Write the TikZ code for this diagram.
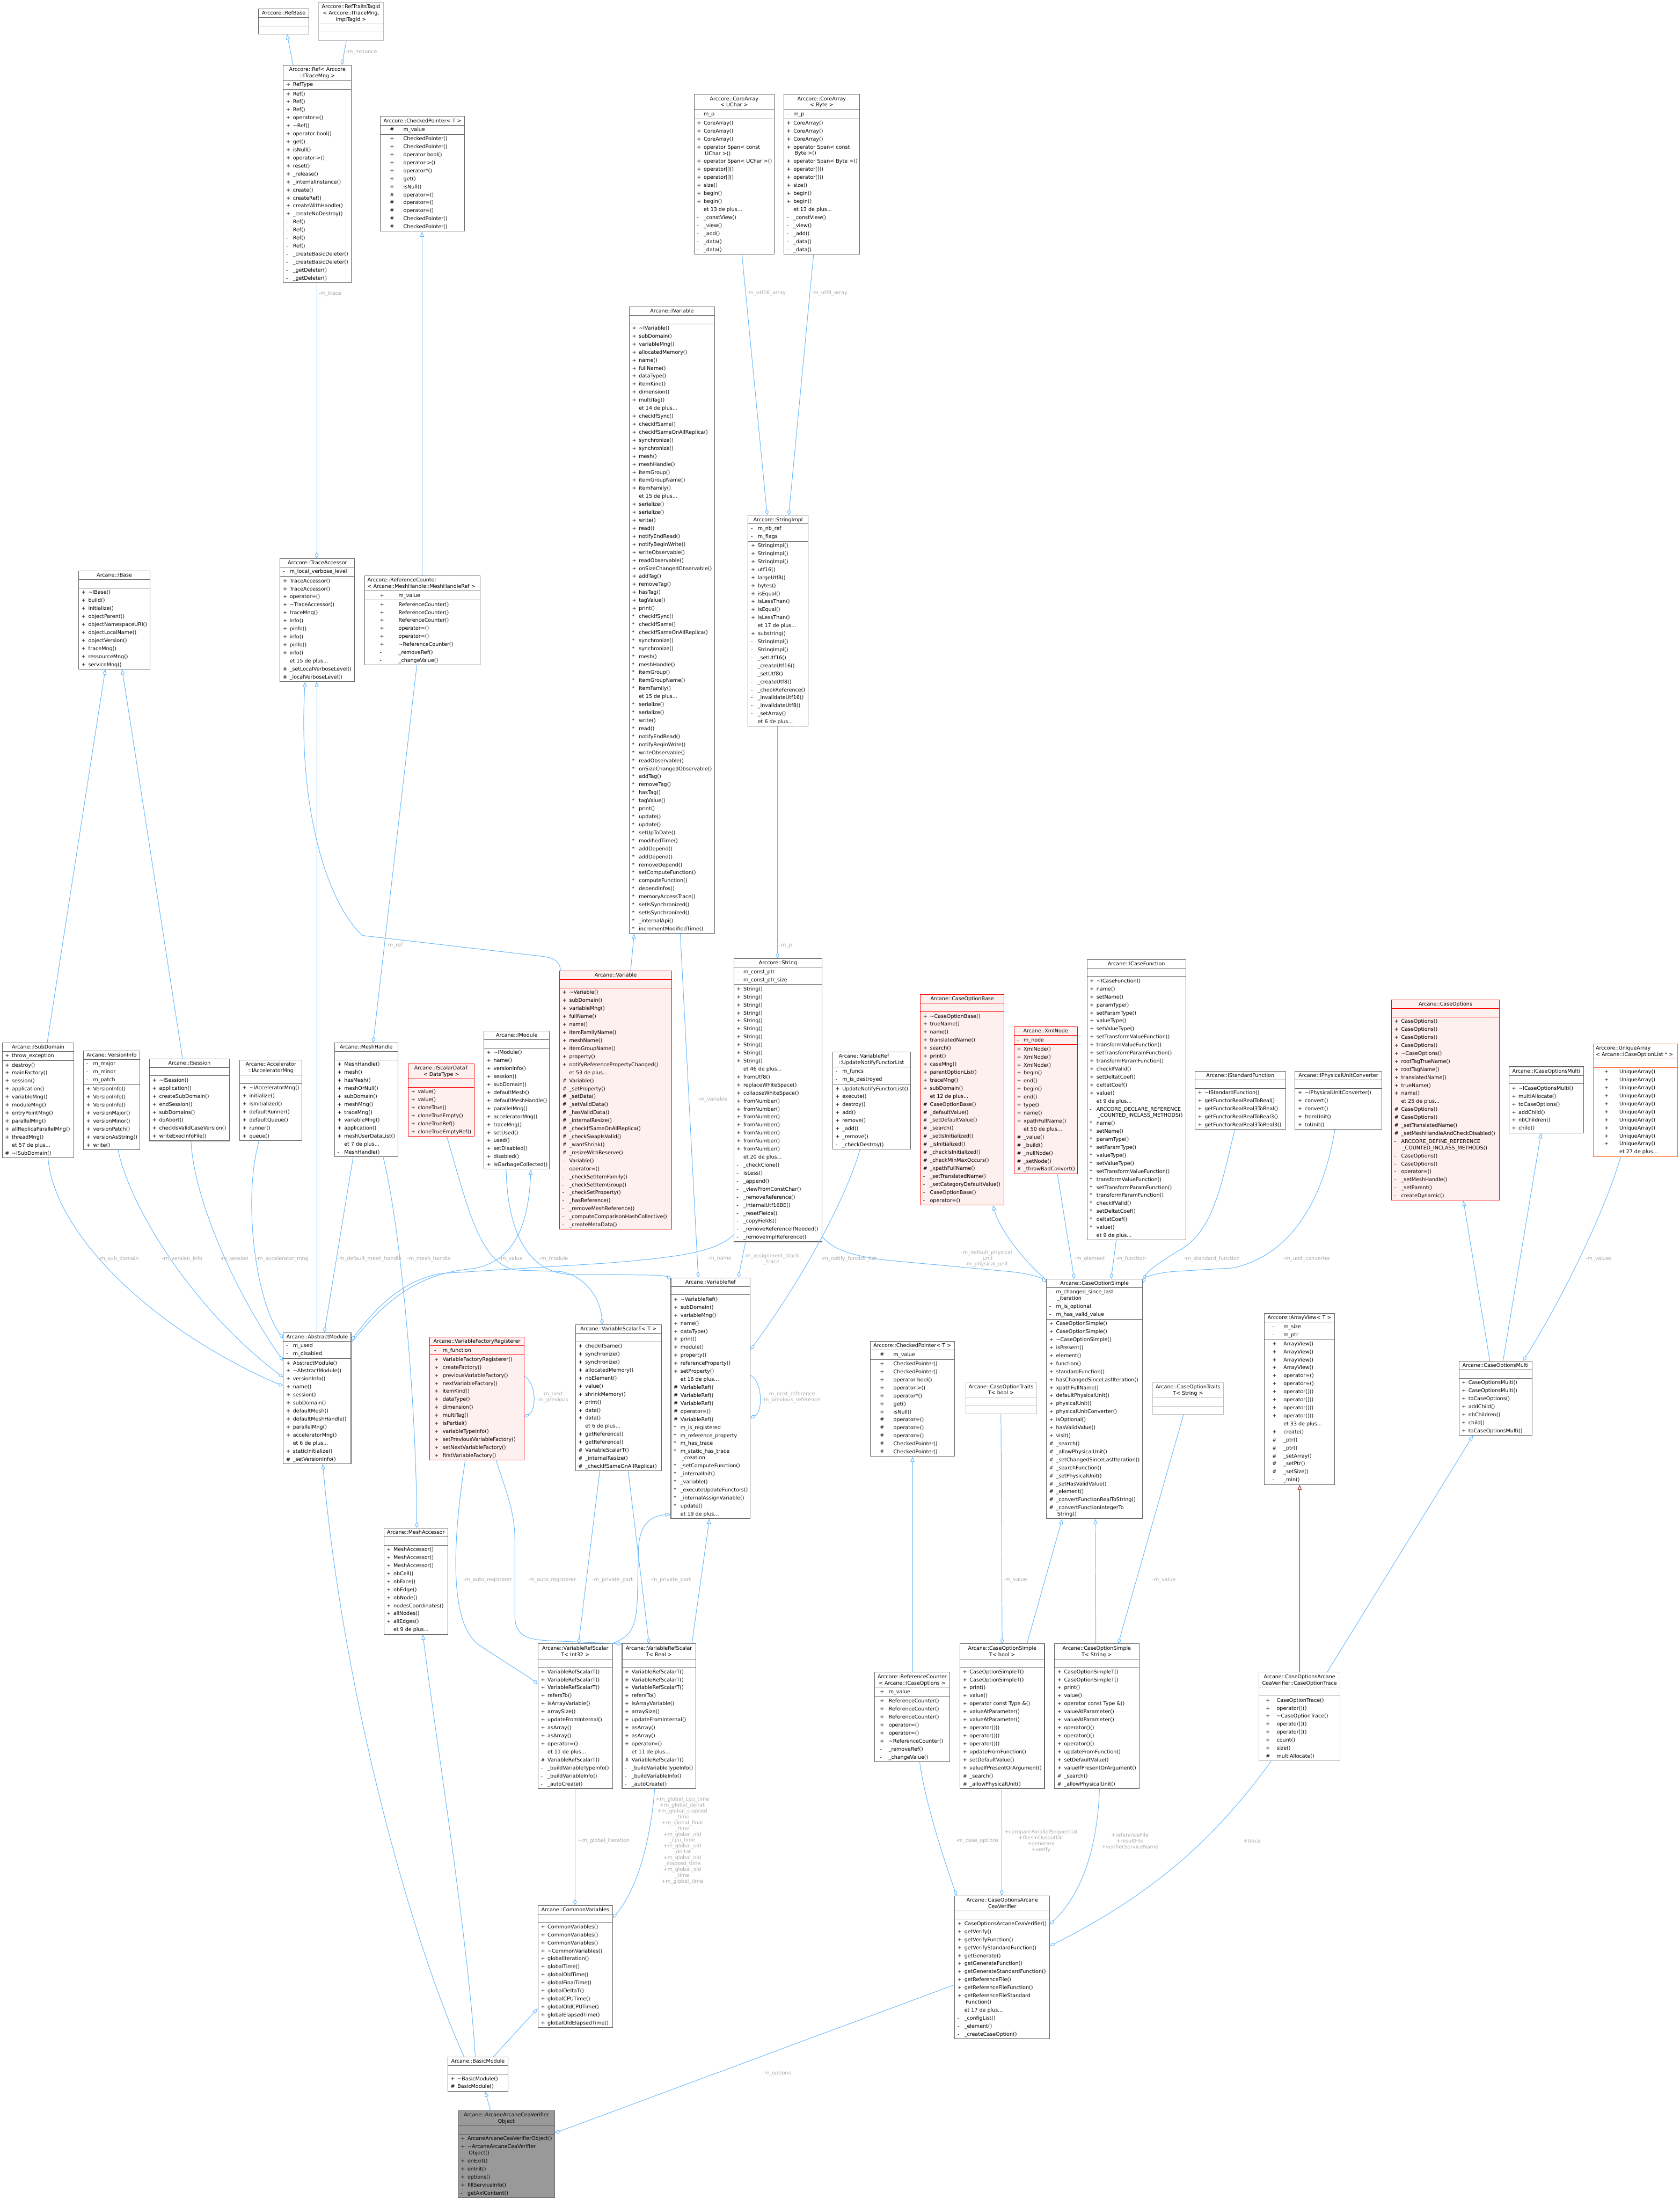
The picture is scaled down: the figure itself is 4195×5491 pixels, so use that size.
\documentclass[tikz,border=0pt]{standalone}
\usepackage{fontspec}
\setmainfont{DejaVu Sans}
\usepackage{tikz}
\usetikzlibrary{arrows.meta}
\usepackage{xcolor}

\definecolor{edgeblue}{HTML}{63B8FF}
\definecolor{lblgray}{HTML}{A8A8A8}
\definecolor{framegray}{HTML}{666666}
\definecolor{ghostgray}{HTML}{BFBFBF}
\definecolor{redframe}{HTML}{FF0000}
\definecolor{redfill}{HTML}{FFF0F0}
\definecolor{orangeframe}{HTML}{FF6A30}
\definecolor{mainfill}{HTML}{999999}
\definecolor{tmplred}{HTML}{9B1C1C}

\newlength\symx
\newlength\txtx
\newcommand\sepcol{framegray}
\newcommand\umlfont{\fontsize{12.8pt}{15pt}\selectfont}
\newcommand\lblfont{\fontsize{12.8pt}{14.6pt}\selectfont}
\newcommand\tld{\textasciitilde}
% a class box: width, then title / compartments
\newcommand\cls[2]{\vbox{\hsize=#1pt\offinterlineskip#2}}
\newcommand\ctitle[1]{\hbox to\hsize{\vrule height15pt depth6pt width0pt\hss#1\hss}}
\newcommand\ctitlew[1]{\hbox to\hsize{\vrule height10pt depth6pt width0pt\hss#1\hss}}
\newcommand\ctitlel[2]{\hbox to\hsize{\vrule height15pt depth6pt width0pt\hskip#1pt#2\hss}}
\newcommand\ctitlelw[2]{\hbox to\hsize{\vrule height10pt depth6pt width0pt\hskip#1pt#2\hss}}
\newcommand\csep{{\color{\sepcol}\hrule height1pt}}
\newcommand\cempty{\kern20pt}
\newcommand\cpad{\kern1pt}
\newcommand\crow[2]{\hbox to\hsize{\vrule height14pt depth6pt width0pt\hskip\symx\rlap{#1}\hskip\dimexpr\txtx-\symx\relax#2\hss}}
\newcommand\cwrap[1]{\hbox to\hsize{\vrule height9pt depth6pt width0pt\hskip\txtx\hskip3pt#1\hss}}
\newcommand\cmore[1]{\hbox to\hsize{\vrule height14pt depth6pt width0pt\hskip\txtx et #1 de plus...\hss}}

\catcode`\_=12
% member lists used twice
\newcommand\ivarmid[1]{\crow{#1}{checkIfSync()}\crow{#1}{checkIfSame()}\crow{#1}{checkIfSameOnAllReplica()}%
 \crow{#1}{synchronize()}\crow{#1}{synchronize()}\crow{#1}{mesh()}\crow{#1}{meshHandle()}\crow{#1}{itemGroup()}%
 \crow{#1}{itemGroupName()}\crow{#1}{itemFamily()}\cmore{15}\crow{#1}{serialize()}\crow{#1}{serialize()}%
 \crow{#1}{write()}\crow{#1}{read()}\crow{#1}{notifyEndRead()}\crow{#1}{notifyBeginWrite()}%
 \crow{#1}{writeObservable()}\crow{#1}{readObservable()}\crow{#1}{onSizeChangedObservable()}%
 \crow{#1}{addTag()}\crow{#1}{removeTag()}\crow{#1}{hasTag()}\crow{#1}{tagValue()}\crow{#1}{print()}}
\newcommand\cfunclist[1]{\crow{#1}{name()}\crow{#1}{setName()}\crow{#1}{paramType()}\crow{#1}{setParamType()}%
 \crow{#1}{valueType()}\crow{#1}{setValueType()}\crow{#1}{setTransformValueFunction()}%
 \crow{#1}{transformValueFunction()}\crow{#1}{setTransformParamFunction()}\crow{#1}{transformParamFunction()}%
 \crow{#1}{checkIfValid()}\crow{#1}{setDeltatCoef()}\crow{#1}{deltatCoef()}\crow{#1}{value()}\cmore{9}}
\newcommand\chkptrrows{\crow{\#}{m_value}\cpad\csep\cpad
 \crow{+}{CheckedPointer()}\crow{+}{CheckedPointer()}\crow{+}{operator bool()}\crow{+}{operator->()}%
 \crow{+}{operator*()}\crow{+}{get()}\crow{+}{isNull()}\crow{\#}{operator=()}\crow{\#}{operator=()}%
 \crow{\#}{operator=()}\crow{\#}{CheckedPointer()}\crow{\#}{CheckedPointer()}\cpad}
\newcommand\refcountrows{\cpad\crow{+}{m_value}\cpad\csep\cpad
 \crow{+}{ReferenceCounter()}\crow{+}{ReferenceCounter()}\crow{+}{ReferenceCounter()}\crow{+}{operator=()}%
 \crow{+}{operator=()}\crow{+}{\tld ReferenceCounter()}\crow{-}{_removeRef()}\crow{-}{_changeValue()}\cpad}
\newcommand\simpletrows{\crow{+}{CaseOptionSimpleT()}\crow{+}{CaseOptionSimpleT()}\crow{+}{print()}%
 \crow{+}{value()}\crow{+}{operator const Type \&()}\crow{+}{valueAtParameter()}\crow{+}{valueAtParameter()}%
 \crow{+}{operator()()}\crow{+}{operator()()}\crow{+}{operator()()}\crow{+}{updateFromFunction()}%
 \crow{+}{setDefaultValue()}\crow{+}{valueIfPresentOrArgument()}\crow{\#}{_search()}\crow{\#}{_allowPhysicalUnit()}}
\newcommand\refscalarrows{\crow{+}{VariableRefScalarT()}\crow{+}{VariableRefScalarT()}\crow{+}{VariableRefScalarT()}%
 \crow{+}{refersTo()}\crow{+}{isArrayVariable()}\crow{+}{arraySize()}\crow{+}{updateFromInternal()}%
 \crow{+}{asArray()}\crow{+}{asArray()}\crow{+}{operator=()}\cmore{11}\crow{\#}{VariableRefScalarT()}%
 \crow{-}{_buildVariableTypeInfo()}\crow{-}{_buildVariableInfo()}\crow{-}{_autoCreate()}}

\begin{document}
\begin{tikzpicture}[x=1pt, y=-1pt,
  classbox/.style={draw=framegray, fill=white, line width=1.4pt, inner sep=0pt,
    anchor=north west, font=\umlfont,
    execute at begin node={\setlength\symx{7pt}\setlength\txtx{24pt}}},
  redbox/.style={classbox, draw=redframe, fill=redfill, execute at begin node={\def\sepcol{redframe}}},
  ghostbox/.style={classbox, draw=ghostgray, execute at begin node={\def\sepcol{ghostgray}}},
  orangebox/.style={classbox, draw=orangeframe, execute at begin node={\def\sepcol{orangeframe}}},
  mainbox/.style={classbox, fill=mainfill},
  cols/.style 2 args={execute at begin node={\setlength\symx{#1pt}\setlength\txtx{#2pt}}},
  inherit/.style={edgeblue, line width=1.3pt, -{Triangle[open, length=13pt, width=10pt]}},
  member/.style={edgeblue, line width=1.3pt, -{Diamond[open, length=15pt, width=9pt]}},
  tmpl/.style={tmplred, line width=1.3pt, -{Triangle[open, length=13pt, width=10pt]}},
  lbl/.style={text=lblgray, inner sep=0pt, align=center, font=\lblfont}]

\useasboundingbox (0,0) rectangle (4195,5491);
\fill[white] (0,0) rectangle (4195,5491);

% ---- top : Arccore references
\node[classbox] (refbase) at (645,21) {\cls{126}{\ctitle{Arccore::RefBase}\csep\cempty\csep\cempty}};
\node[ghostbox] (reftraits) at (795,5) {\cls{162}{\ctitle{Arccore::RefTraitsTagId}\ctitlew{< Arccore::ITraceMng,}\ctitlew{ImplTagId >}\csep\cempty\csep\cempty}};
\node[classbox] (ref) at (707,162) {\cls{170}{\ctitle{Arccore::Ref< Arccore}\ctitlew{::ITraceMng >}\csep
 \cpad\crow{+}{RefType}\cpad\csep\cpad
 \crow{+}{Ref()}\crow{+}{Ref()}\crow{+}{Ref()}\crow{+}{operator=()}\crow{+}{\tld Ref()}\crow{+}{operator bool()}
 \crow{+}{get()}\crow{+}{isNull()}\crow{+}{operator->()}\crow{+}{reset()}\crow{+}{_release()}
 \crow{+}{_internalInstance()}\crow{+}{create()}\crow{+}{createRef()}\crow{+}{createWithHandle()}
 \crow{+}{_createNoDestroy()}\crow{-}{Ref()}\crow{-}{Ref()}\crow{-}{Ref()}\crow{-}{Ref()}
 \crow{-}{_createBasicDeleter()}\crow{-}{_createBasicDeleter()}\crow{-}{_getDeleter()}\crow{-}{_getDeleter()}\cpad}};
\node[classbox, cols={24}{58}] (chkptrA) at (949,290) {\cls{211}{\ctitle{Arccore::CheckedPointer< T >}\csep\cpad\chkptrrows}};
\node[classbox] (corearrayU) at (1733,235) {\cls{200}{\ctitle{Arccore::CoreArray}\ctitlew{< UChar >}\csep
 \cpad\crow{-}{m_p}\cpad\csep\cpad
 \crow{+}{CoreArray()}\crow{+}{CoreArray()}\crow{+}{CoreArray()}\crow{+}{operator Span< const}\cwrap{UChar >()}
 \crow{+}{operator Span< UChar >()}\crow{+}{operator[]()}\crow{+}{operator[]()}\crow{+}{size()}
 \crow{+}{begin()}\crow{+}{begin()}\cmore{13}\crow{-}{_constView()}\crow{-}{_view()}\crow{-}{_add()}
 \crow{-}{_data()}\crow{-}{_data()}\cpad}};
\node[classbox] (corearrayB) at (1957,235) {\cls{189}{\ctitle{Arccore::CoreArray}\ctitlew{< Byte >}\csep
 \cpad\crow{-}{m_p}\cpad\csep\cpad
 \crow{+}{CoreArray()}\crow{+}{CoreArray()}\crow{+}{CoreArray()}\crow{+}{operator Span< const}\cwrap{Byte >()}
 \crow{+}{operator Span< Byte >()}\crow{+}{operator[]()}\crow{+}{operator[]()}\crow{+}{size()}
 \crow{+}{begin()}\crow{+}{begin()}\cmore{13}\crow{-}{_constView()}\crow{-}{_view()}\crow{-}{_add()}
 \crow{-}{_data()}\crow{-}{_data()}\cpad}};

% ---- variables
\node[classbox] (ivariable) at (1571,765) {\cls{213}{\ctitle{Arcane::IVariable}\csep\cempty\csep\cpad
 \crow{+}{\tld IVariable()}\crow{+}{subDomain()}\crow{+}{variableMng()}\crow{+}{allocatedMemory()}
 \crow{+}{name()}\crow{+}{fullName()}\crow{+}{dataType()}\crow{+}{itemKind()}\crow{+}{dimension()}
 \crow{+}{multiTag()}\cmore{14}\ivarmid{+}\ivarmid{*}
 \crow{*}{update()}\crow{*}{update()}\crow{*}{setUpToDate()}\crow{*}{modifiedTime()}\crow{*}{addDepend()}
 \crow{*}{addDepend()}\crow{*}{removeDepend()}\crow{*}{setComputeFunction()}\crow{*}{computeFunction()}
 \crow{*}{dependInfos()}\crow{*}{memoryAccessTrace()}\crow{*}{setIsSynchronized()}\crow{*}{setIsSynchronized()}
 \crow{*}{_internalApi()}\crow{*}{incrementModifiedTime()}\cpad}};
\node[classbox] (stringimpl) at (1868,1286) {\cls{149}{\ctitle{Arccore::StringImpl}\csep
 \cpad\crow{-}{m_nb_ref}\crow{-}{m_flags}\cpad\csep\cpad
 \crow{+}{StringImpl()}\crow{+}{StringImpl()}\crow{+}{StringImpl()}\crow{+}{utf16()}\crow{+}{largeUtf8()}
 \crow{+}{bytes()}\crow{+}{isEqual()}\crow{+}{isLessThan()}\crow{+}{isEqual()}\crow{+}{isLessThan()}
 \cmore{17}\crow{+}{substring()}\crow{-}{StringImpl()}\crow{-}{StringImpl()}\crow{-}{_setUtf16()}
 \crow{-}{_createUtf16()}\crow{-}{_setUtf8()}\crow{-}{_createUtf8()}\crow{-}{_checkReference()}
 \crow{-}{_invalidateUtf16()}\crow{-}{_invalidateUtf8()}\crow{-}{_setArray()}\cmore{6}\cpad}};
\node[classbox] (string) at (1832,2393) {\cls{221}{\ctitle{Arccore::String}\csep
 \cpad\crow{-}{m_const_ptr}\crow{-}{m_const_ptr_size}\cpad\csep\cpad
 \crow{+}{String()}\crow{+}{String()}\crow{+}{String()}\crow{+}{String()}\crow{+}{String()}
 \crow{+}{String()}\crow{+}{String()}\crow{+}{String()}\crow{+}{String()}\crow{+}{String()}\cmore{46}
 \crow{+}{fromUtf8()}\crow{+}{replaceWhiteSpace()}\crow{+}{collapseWhiteSpace()}\crow{+}{fromNumber()}
 \crow{+}{fromNumber()}\crow{+}{fromNumber()}\crow{+}{fromNumber()}\crow{+}{fromNumber()}\crow{+}{fromNumber()}
 \crow{+}{fromNumber()}\cmore{20}\crow{-}{_checkClone()}\crow{-}{isLess()}\crow{-}{_append()}
 \crow{-}{_viewFromConstChar()}\crow{-}{_removeReference()}\crow{-}{_internalUtf16BE()}\crow{-}{_resetFields()}
 \crow{-}{_copyFields()}\crow{-}{_removeReferenceIfNeeded()}\crow{-}{_removeImplReference()}\cpad}};
\node[redbox] (variable) at (1397,2424) {\cls{280}{\ctitle{Arcane::Variable}\csep\cempty\csep\cpad
 \crow{+}{\tld Variable()}\crow{+}{subDomain()}\crow{+}{variableMng()}\crow{+}{fullName()}\crow{+}{name()}
 \crow{+}{itemFamilyName()}\crow{+}{meshName()}\crow{+}{itemGroupName()}\crow{+}{property()}
 \crow{+}{notifyReferencePropertyChanged()}\cmore{53}\crow{\#}{Variable()}\crow{\#}{_setProperty()}
 \crow{\#}{_setData()}\crow{\#}{_setValidData()}\crow{\#}{_hasValidData()}\crow{\#}{_internalResize()}
 \crow{\#}{_checkIfSameOnAllReplica()}\crow{\#}{_checkSwapIsValid()}\crow{\#}{_wantShrink()}
 \crow{\#}{_resizeWithReserve()}\crow{-}{Variable()}\crow{-}{operator=()}\crow{-}{_checkSetItemFamily()}
 \crow{-}{_checkSetItemGroup()}\crow{-}{_checkSetProperty()}\crow{-}{_hasReference()}
 \crow{-}{_removeMeshReference()}\crow{-}{_computeComparisonHashCollective()}\crow{-}{_createMetaData()}\cpad}};

% ---- trace, mesh and module side
\node[classbox] (traceacc) at (699,1394) {\cls{186}{\ctitle{Arccore::TraceAccessor}\csep
 \cpad\crow{-}{m_local_verbose_level}\cpad\csep\cpad
 \crow{+}{TraceAccessor()}\crow{+}{TraceAccessor()}\crow{+}{operator=()}\crow{+}{\tld TraceAccessor()}
 \crow{+}{traceMng()}\crow{+}{info()}\crow{+}{pinfo()}\crow{+}{info()}\crow{+}{pinfo()}\crow{+}{info()}
 \cmore{15}\crow{\#}{_setLocalVerboseLevel()}\crow{\#}{_localVerboseLevel()}\cpad}};
\node[classbox, cols={38}{85}] (refcntMesh) at (910,1437) {\cls{289}{\ctitlel{7}{Arccore::ReferenceCounter}\ctitlelw{7}{< Arcane::MeshHandle::MeshHandleRef >}\csep\refcountrows}};
\node[classbox] (ibase) at (196,1425) {\cls{178}{\ctitle{Arcane::IBase}\csep\cempty\csep\cpad
 \crow{+}{\tld IBase()}\crow{+}{build()}\crow{+}{initialize()}\crow{+}{objectParent()}
 \crow{+}{objectNamespaceURI()}\crow{+}{objectLocalName()}\crow{+}{objectVersion()}\crow{+}{traceMng()}
 \crow{+}{ressourceMng()}\crow{+}{serviceMng()}\cpad}};
\node[classbox] (isubdomain) at (5,2603) {\cls{179}{\ctitle{Arcane::ISubDomain}\csep
 \cpad\crow{+}{throw_exception}\cpad\csep\cpad
 \crow{+}{destroy()}\crow{+}{mainFactory()}\crow{+}{session()}\crow{+}{application()}\crow{+}{variableMng()}
 \crow{+}{moduleMng()}\crow{+}{entryPointMng()}\crow{+}{parallelMng()}\crow{+}{allReplicaParallelMng()}
 \crow{+}{threadMng()}\cmore{57}\crow{\#}{\tld ISubDomain()}\cpad}};
\node[classbox] (versioninfo) at (208,2623) {\cls{140}{\ctitle{Arcane::VersionInfo}\csep
 \cpad\crow{-}{m_major}\crow{-}{m_minor}\crow{-}{m_patch}\cpad\csep\cpad
 \crow{+}{VersionInfo()}\crow{+}{VersionInfo()}\crow{+}{VersionInfo()}\crow{+}{versionMajor()}
 \crow{+}{versionMinor()}\crow{+}{versionPatch()}\crow{+}{versionAsString()}\crow{+}{write()}\cpad}};
\node[classbox] (isession) at (373,2643) {\cls{199}{\ctitle{Arcane::ISession}\csep\cempty\csep\cpad
 \crow{+}{\tld ISession()}\crow{+}{application()}\crow{+}{createSubDomain()}\crow{+}{endSession()}
 \crow{+}{subDomains()}\crow{+}{doAbort()}\crow{+}{checkIsValidCaseVersion()}\crow{+}{writeExecInfoFile()}\cpad}};
\node[classbox] (iaccmng) at (598,2646) {\cls{156}{\ctitle{Arcane::Accelerator}\ctitlew{::IAcceleratorMng}\csep\cempty\csep\cpad
 \crow{+}{\tld IAcceleratorMng()}\crow{+}{initialize()}\crow{+}{isInitialized()}\crow{+}{defaultRunner()}
 \crow{+}{defaultQueue()}\crow{+}{runner()}\crow{+}{queue()}\cpad}};
\node[classbox] (meshhandle) at (835,2603) {\cls{158}{\ctitle{Arcane::MeshHandle}\csep\cempty\csep\cpad
 \crow{+}{MeshHandle()}\crow{+}{mesh()}\crow{+}{hasMesh()}\crow{+}{meshOrNull()}\crow{+}{subDomain()}
 \crow{+}{meshMng()}\crow{+}{traceMng()}\crow{+}{variableMng()}\crow{+}{application()}
 \crow{+}{meshUserDataList()}\cmore{7}\crow{-}{MeshHandle()}\cpad}};
\node[redbox] (iscalardata) at (1019,2656) {\cls{165}{\ctitle{Arcane::IScalarDataT}\ctitlew{< DataType >}\csep\cempty\csep\cpad
 \crow{+}{value()}\crow{+}{value()}\crow{+}{cloneTrue()}\crow{+}{cloneTrueEmpty()}\crow{+}{cloneTrueRef()}
 \crow{+}{cloneTrueEmptyRef()}\cpad}};
\node[classbox] (imodule) at (1208,2574) {\cls{164}{\ctitle{Arcane::IModule}\csep\cempty\csep\cpad
 \crow{+}{\tld IModule()}\crow{+}{name()}\crow{+}{versionInfo()}\crow{+}{session()}\crow{+}{subDomain()}
 \crow{+}{defaultMesh()}\crow{+}{defaultMeshHandle()}\crow{+}{parallelMng()}\crow{+}{acceleratorMng()}
 \crow{+}{traceMng()}\crow{+}{setUsed()}\crow{+}{used()}\crow{+}{setDisabled()}\crow{+}{disabled()}
 \crow{+}{isGarbageCollected()}\cpad}};
\node[classbox] (abstractmodule) at (707,3327) {\cls{169}{\ctitle{Arcane::AbstractModule}\csep
 \cpad\crow{-}{m_used}\crow{-}{m_disabled}\cpad\csep\cpad
 \crow{+}{AbstractModule()}\crow{+}{\tld AbstractModule()}\crow{+}{versionInfo()}\crow{+}{name()}
 \crow{+}{session()}\crow{+}{subDomain()}\crow{+}{defaultMesh()}\crow{+}{defaultMeshHandle()}
 \crow{+}{parallelMng()}\crow{+}{acceleratorMng()}\cmore{6}\crow{+}{staticInitialize()}
 \crow{\#}{_setVersionInfo()}\cpad}};
\node[redbox, cols={11}{32}] (varfactreg) at (1073,3338) {\cls{235}{\ctitle{Arcane::VariableFactoryRegisterer}\csep
 \cpad\crow{-}{m_function}\cpad\csep\cpad
 \crow{+}{VariableFactoryRegisterer()}\crow{+}{createFactory()}\crow{+}{previousVariableFactory()}
 \crow{+}{nextVariableFactory()}\crow{+}{itemKind()}\crow{+}{dataType()}\crow{+}{dimension()}
 \crow{+}{multiTag()}\crow{+}{isPartial()}\crow{+}{variableTypeInfo()}\crow{+}{setPreviousVariableFactory()}
 \crow{+}{setNextVariableFactory()}\crow{+}{firstVariableFactory()}\cpad}};
\node[classbox] (meshaccessor) at (958,3815) {\cls{160}{\ctitle{Arcane::MeshAccessor}\csep\cempty\csep\cpad
 \crow{+}{MeshAccessor()}\crow{+}{MeshAccessor()}\crow{+}{MeshAccessor()}\crow{+}{nbCell()}\crow{+}{nbFace()}
 \crow{+}{nbEdge()}\crow{+}{nbNode()}\crow{+}{nodesCoordinates()}\crow{+}{allNodes()}\crow{+}{allEdges()}
 \cmore{9}\cpad}};
\node[classbox] (varscalar) at (1437,3307) {\cls{214}{\ctitle{Arcane::VariableScalarT< T >}\csep\cempty\csep\cpad
 \crow{+}{checkIfSame()}\crow{+}{synchronize()}\crow{+}{synchronize()}\crow{+}{allocatedMemory()}
 \crow{+}{nbElement()}\crow{+}{value()}\crow{+}{shrinkMemory()}\crow{+}{print()}\crow{+}{data()}\crow{+}{data()}
 \cmore{6}\crow{+}{getReference()}\crow{+}{getReference()}\crow{\#}{VariableScalarT()}\crow{\#}{_internalResize()}
 \crow{\#}{_checkIfSameOnAllReplica()}\cpad}};
\node[classbox] (varref) at (1675,3190) {\cls{198}{\ctitle{Arcane::VariableRef}\csep\cempty\csep\cpad
 \crow{+}{\tld VariableRef()}\crow{+}{subDomain()}\crow{+}{variableMng()}\crow{+}{name()}\crow{+}{dataType()}
 \crow{+}{print()}\crow{+}{module()}\crow{+}{property()}\crow{+}{referenceProperty()}\crow{+}{setProperty()}
 \cmore{16}\crow{\#}{VariableRef()}\crow{\#}{VariableRef()}\crow{\#}{VariableRef()}\crow{\#}{operator=()}
 \crow{\#}{VariableRef()}\crow{*}{m_is_registered}\crow{*}{m_reference_property}\crow{*}{m_has_trace}
 \crow{*}{m_static_has_trace}\cwrap{_creation}\crow{*}{_setComputeFunction()}\crow{*}{_internalInit()}
 \crow{*}{_variable()}\crow{*}{_executeUpdateFunctors()}\crow{*}{_internalAssignVariable()}\crow{*}{update()}
 \cmore{19}\cpad}};
\node[classbox] (updnotify) at (2079,2626) {\cls{194}{\ctitlel{15}{Arcane::VariableRef}\ctitlelw{15}{::UpdateNotifyFunctorList}\csep
 \cpad\crow{-}{m_funcs}\crow{-}{m_is_destroyed}\cpad\csep\cpad
 \crow{+}{UpdateNotifyFunctorList()}\crow{+}{execute()}\crow{+}{destroy()}\crow{+}{add()}\crow{+}{remove()}
 \crow{+}{_add()}\crow{+}{_remove()}\crow{-}{_checkDestroy()}\cpad}};

% ---- case options side
\node[redbox] (caseoptbase) at (2298,2483) {\cls{209}{\ctitle{Arcane::CaseOptionBase}\csep\cempty\csep\cpad
 \crow{+}{\tld CaseOptionBase()}\crow{+}{trueName()}\crow{+}{name()}\crow{+}{translatedName()}\crow{+}{search()}
 \crow{+}{print()}\crow{+}{caseMng()}\crow{+}{parentOptionList()}\crow{+}{traceMng()}\crow{+}{subDomain()}
 \cmore{12}\crow{\#}{CaseOptionBase()}\crow{\#}{_defaultValue()}\crow{\#}{_setDefaultValue()}\crow{\#}{_search()}
 \crow{\#}{_setIsInitialized()}\crow{\#}{_isInitialized()}\crow{\#}{_checkIsInitialized()}
 \crow{\#}{_checkMinMaxOccurs()}\crow{\#}{_xpathFullName()}\crow{-}{_setTranslatedName()}
 \crow{-}{_setCategoryDefaultValue()}\crow{-}{CaseOptionBase()}\crow{-}{operator=()}\cpad}};
\node[redbox] (xmlnode) at (2532,2563) {\cls{158}{\ctitle{Arcane::XmlNode}\csep
 \cpad\crow{-}{m_node}\cpad\csep\cpad
 \crow{+}{XmlNode()}\crow{+}{XmlNode()}\crow{+}{XmlNode()}\crow{+}{begin()}\crow{+}{end()}\crow{+}{begin()}
 \crow{+}{end()}\crow{+}{type()}\crow{+}{name()}\crow{+}{xpathFullName()}\cmore{50}\crow{\#}{_value()}
 \crow{\#}{_build()}\crow{\#}{_nullNode()}\crow{\#}{_setNode()}\crow{\#}{_throwBadConvert()}\cpad}};
\node[classbox] (icasefunc) at (2714,2395) {\cls{247}{\ctitle{Arcane::ICaseFunction}\csep\cempty\csep\cpad
 \crow{+}{\tld ICaseFunction()}\cfunclist{+}\crow{-}{ARCCORE_DECLARE_REFERENCE}\cwrap{_COUNTED_INCLASS_METHODS()}
 \cfunclist{*}\cpad}};
\node[classbox] (istdfunc) at (2984,2674) {\cls{226}{\ctitle{Arcane::IStandardFunction}\csep\cempty\csep\cpad
 \crow{+}{\tld IStandardFunction()}\crow{+}{getFunctorRealRealToReal()}\crow{+}{getFunctorRealReal3ToReal()}
 \crow{+}{getFunctorRealRealToReal3()}\crow{+}{getFunctorRealReal3ToReal3()}\cpad}};
\node[classbox] (iphysconv) at (3234,2674) {\cls{216}{\ctitle{Arcane::IPhysicalUnitConverter}\csep\cempty\csep\cpad
 \crow{+}{\tld IPhysicalUnitConverter()}\crow{+}{convert()}\crow{+}{convert()}\crow{+}{fromUnit()}
 \crow{+}{toUnit()}\cpad}};
\node[redbox] (caseoptions) at (3475,2496) {\cls{269}{\ctitle{Arcane::CaseOptions}\csep\cempty\csep\cpad
 \crow{+}{CaseOptions()}\crow{+}{CaseOptions()}\crow{+}{CaseOptions()}\crow{+}{CaseOptions()}
 \crow{+}{\tld CaseOptions()}\crow{+}{rootTagTrueName()}\crow{+}{rootTagName()}\crow{+}{translatedName()}
 \crow{+}{trueName()}\crow{+}{name()}\cmore{25}\crow{\#}{CaseOptions()}\crow{\#}{CaseOptions()}
 \crow{\#}{_setTranslatedName()}\crow{\#}{_setMeshHandleAndCheckDisabled()}
 \crow{-}{ARCCORE_DEFINE_REFERENCE}\cwrap{_COUNTED_INCLASS_METHODS()}\crow{-}{CaseOptions()}
 \crow{-}{CaseOptions()}\crow{-}{operator=()}\crow{-}{_setMeshHandle()}\crow{-}{_setParent()}
 \crow{-}{createDynamic()}\cpad}};
\node[classbox] (icaseoptmulti) at (3768,2663) {\cls{186}{\ctitle{Arcane::ICaseOptionsMulti}\csep\cempty\csep\cpad
 \crow{+}{\tld ICaseOptionsMulti()}\crow{+}{multiAllocate()}\crow{+}{toCaseOptions()}\crow{+}{addChild()}
 \crow{+}{nbChildren()}\crow{+}{child()}\cpad}};
\node[orangebox, cols={27}{65}] (uniquearray) at (3979,2606) {\cls{210}{\ctitlel{6}{Arccore::UniqueArray}\ctitlelw{6}{< Arcane::ICaseOptionList * >}\csep\cempty\csep\cpad
 \crow{+}{UniqueArray()}\crow{+}{UniqueArray()}\crow{+}{UniqueArray()}\crow{+}{UniqueArray()}
 \crow{+}{UniqueArray()}\crow{+}{UniqueArray()}\crow{+}{UniqueArray()}\crow{+}{UniqueArray()}
 \crow{+}{UniqueArray()}\crow{+}{UniqueArray()}\cmore{27}\cpad}};
\node[classbox] (caseoptsimple) at (2613,3193) {\cls{240}{\ctitle{Arcane::CaseOptionSimple}\csep
 \cpad\crow{-}{m_changed_since_last}\cwrap{_iteration}\crow{-}{m_is_optional}\crow{-}{m_has_valid_value}\cpad\csep\cpad
 \crow{+}{CaseOptionSimple()}\crow{+}{CaseOptionSimple()}\crow{+}{\tld CaseOptionSimple()}\crow{+}{isPresent()}
 \crow{+}{element()}\crow{+}{function()}\crow{+}{standardFunction()}\crow{+}{hasChangedSinceLastIteration()}
 \crow{+}{xpathFullName()}\crow{+}{defaultPhysicalUnit()}\crow{+}{physicalUnit()}\crow{+}{physicalUnitConverter()}
 \crow{+}{isOptional()}\crow{+}{hasValidValue()}\crow{+}{visit()}\crow{\#}{_search()}\crow{\#}{_allowPhysicalUnit()}
 \crow{\#}{_setChangedSinceLastIteration()}\crow{\#}{_searchFunction()}\crow{\#}{_setPhysicalUnit()}
 \crow{\#}{_setHasValidValue()}\crow{\#}{_element()}\crow{\#}{_convertFunctionRealToString()}
 \crow{\#}{_convertFunctionIntegerTo}\cwrap{String()}\cpad}};
\node[classbox, cols={24}{58}] (chkptrB) at (2173,3349) {\cls{210}{\ctitle{Arccore::CheckedPointer< T >}\csep\cpad\chkptrrows}};
\node[ghostbox] (traitsbool) at (2411,3451) {\cls{177}{\ctitle{Arcane::CaseOptionTraits}\ctitlew{T< bool >}\csep\cempty\csep\cempty}};
\node[ghostbox] (traitsstring) at (2878,3452) {\cls{177}{\ctitle{Arcane::CaseOptionTraits}\ctitlew{T< String >}\csep\cempty\csep\cempty}};
\node[classbox] (simplebool) at (2397,4104) {\cls{211}{\ctitle{Arcane::CaseOptionSimple}\ctitlew{T< bool >}\csep\cempty\csep\cpad\simpletrows\cpad}};
\node[classbox] (simplestring) at (2633,4104) {\cls{211}{\ctitle{Arcane::CaseOptionSimple}\ctitlew{T< String >}\csep\cempty\csep\cpad\simpletrows\cpad}};
\node[classbox, cols={13}{35}] (refcntCase) at (2184,4175) {\cls{187}{\ctitle{Arccore::ReferenceCounter}\ctitlew{< Arcane::ICaseOptions >}\csep\refcountrows}};
\node[classbox] (verifier) at (2384,4733) {\cls{237}{\ctitle{Arcane::CaseOptionsArcane}\ctitlew{CeaVerifier}\csep\cempty\csep\cpad
 \crow{+}{CaseOptionsArcaneCeaVerifier()}\crow{+}{getVerify()}\crow{+}{getVerifyFunction()}
 \crow{+}{getVerifyStandardFunction()}\crow{+}{getGenerate()}\crow{+}{getGenerateFunction()}
 \crow{+}{getGenerateStandardFunction()}\crow{+}{getReferenceFile()}\crow{+}{getReferenceFileFunction()}
 \crow{+}{getReferenceFileStandard}\cwrap{Function()}\cmore{17}\crow{-}{_configList()}\crow{-}{_element()}
 \crow{-}{_createCaseOption()}\cpad}};
\node[ghostbox, cols={17}{44}] (opttrace) at (3144,4175) {\cls{202}{\ctitle{Arcane::CaseOptionsArcane}\ctitlew{CeaVerifier::CaseOptionTrace}\csep\cempty\csep\cpad
 \crow{+}{CaseOptionTrace()}\crow{+}{operator()()}\crow{+}{\tld CaseOptionTrace()}\crow{+}{operator[]()}
 \crow{+}{operator[]()}\crow{+}{count()}\crow{+}{size()}\crow{\#}{multiAllocate()}\cpad}};
\node[classbox, cols={20}{48}] (arrayview) at (3157,3279) {\cls{176}{\ctitle{Arccore::ArrayView< T >}\csep
 \cpad\crow{-}{m_size}\crow{-}{m_ptr}\cpad\csep\cpad
 \crow{+}{ArrayView()}\crow{+}{ArrayView()}\crow{+}{ArrayView()}\crow{+}{ArrayView()}\crow{+}{operator=()}
 \crow{+}{operator=()}\crow{+}{operator[]()}\crow{+}{operator[]()}\crow{+}{operator()()}\crow{+}{operator()()}
 \cmore{33}\crow{+}{create()}\crow{\#}{_ptr()}\crow{\#}{_ptr()}\crow{\#}{_setArray()}\crow{\#}{_setPtr()}
 \crow{\#}{_setSize()}\crow{-}{_min()}\cpad}};
\node[classbox] (caseoptmulti) at (3643,3398) {\cls{183}{\ctitle{Arcane::CaseOptionsMulti}\csep\cempty\csep\cpad
 \crow{+}{CaseOptionsMulti()}\crow{+}{CaseOptionsMulti()}\crow{+}{toCaseOptions()}\crow{+}{addChild()}
 \crow{+}{nbChildren()}\crow{+}{child()}\crow{+}{toCaseOptionsMulti()}\cpad}};

% ---- bottom : module and its variables
\node[classbox] (refInt32) at (1343,4104) {\cls{186}{\ctitle{Arcane::VariableRefScalar}\ctitlew{T< Int32 >}\csep\cempty\csep\cpad\refscalarrows\cpad}};
\node[classbox] (refReal) at (1553,4104) {\cls{184}{\ctitle{Arcane::VariableRefScalar}\ctitlew{T< Real >}\csep\cempty\csep\cpad\refscalarrows\cpad}};
\node[classbox] (commonvars) at (1343,4757) {\cls{186}{\ctitle{Arcane::CommonVariables}\csep\cempty\csep\cpad
 \crow{+}{CommonVariables()}\crow{+}{CommonVariables()}\crow{+}{CommonVariables()}\crow{+}{\tld CommonVariables()}
 \crow{+}{globalIteration()}\crow{+}{globalTime()}\crow{+}{globalOldTime()}\crow{+}{globalFinalTime()}
 \crow{+}{globalDeltaT()}\crow{+}{globalCPUTime()}\crow{+}{globalOldCPUTime()}\crow{+}{globalElapsedTime()}
 \crow{+}{globalOldElapsedTime()}\cpad}};
\node[classbox] (basicmodule) at (1118,5136) {\cls{150}{\ctitle{Arcane::BasicModule}\csep\cempty\csep\cpad
 \crow{+}{\tld BasicModule()}\crow{\#}{BasicModule()}\cpad}};
\node[mainbox] (verifierobj) at (1143,5270) {\cls{242}{\ctitle{Arcane::ArcaneArcaneCeaVerifier}\ctitlew{Object}\csep\cempty\csep\cpad
 \crow{+}{ArcaneArcaneCeaVerifierObject()}\crow{+}{\tld ArcaneArcaneCeaVerifier}\cwrap{Object()}
 \crow{+}{onExit()}\crow{+}{onInit()}\crow{+}{options()}\crow{+}{fillServiceInfo()}\crow{-}{getAxlContent()}\cpad}};

% ---- connectors
\draw[inherit] ([xshift=25pt]ref.north west) -- ([xshift=72pt]refbase.south west);
\draw[member] ([xshift=70pt]reftraits.south west) -- ([xshift=147pt]ref.north west);
\draw[member] ([xshift=84pt]ref.south west) -- ([xshift=92pt]traceacc.north west);
\draw[inherit] ([xshift=144pt]refcntMesh.north west) -- ([xshift=105pt]chkptrA.south west);
\draw[member] ([xshift=120pt]corearrayU.south west) -- ([xshift=48pt]stringimpl.north west);
\draw[member] ([xshift=75pt]corearrayB.south west) -- ([xshift=102pt]stringimpl.north west);
\draw[member] ([xshift=74pt]stringimpl.south west) -- ([xshift=110pt]string.north west);
\draw[inherit] ([xshift=178pt]variable.north west) -- ([xshift=13pt]ivariable.south west);
\draw[member] ([xshift=128pt]ivariable.south west) -- ([xshift=69pt]varref.north west);
\draw[inherit] ([xshift=3pt]variable.north west) .. controls (1398,2400) and (1385,2392) .. (1355,2388)
  -- (905,2336) .. controls (805,2240) and (745,1990) .. ([xshift=63pt]traceacc.south west);
\draw[inherit] ([xshift=84pt]abstractmodule.north west) -- ([xshift=92pt]traceacc.south west);
\draw[member] ([xshift=131pt]refcntMesh.south west) -- ([xshift=97pt]meshhandle.north west);
\draw[inherit] ([xshift=113pt]isubdomain.north west) -- ([xshift=67pt]ibase.south west);
\draw[inherit] ([xshift=83pt]isession.north west) -- ([xshift=109pt]ibase.south west);
\draw[member] ([xshift=115pt]isubdomain.south west) .. controls (135,3080) and (380,3320) .. ([yshift=-134pt]abstractmodule.north west);
\draw[member] ([xshift=87pt]versioninfo.south west) .. controls (320,3000) and (470,3260) .. ([yshift=-112pt]abstractmodule.north west);
\draw[member] ([xshift=104pt]isession.south west) .. controls (485,3000) and (590,3230) .. ([yshift=-71pt]abstractmodule.north west);
\draw[member] ([xshift=49pt]iaccmng.south west) .. controls (605,3000) and (640,3250) .. ([yshift=-15pt]abstractmodule.north west);
\draw[member] ([xshift=47pt]meshhandle.south west) -- ([xshift=103pt]abstractmodule.north west);
\draw[member] ([xshift=122pt]meshhandle.south west) .. controls (1000,3060) and (1040,3500) .. ([xshift=83pt]meshaccessor.north west);
\draw[inherit] ([yshift=-26pt]abstractmodule.north east) .. controls (960,3250) and (1040,3180) .. (1180,3168)
  .. controls (1290,3150) and (1320,3050) .. ([xshift=118pt]imodule.south west);
\draw[member] ([xshift=56pt]imodule.south west) .. controls (1268,3080) and (1320,3175) .. (1420,3182)
  -- (1640,3184) .. controls (1660,3185) and (1670,3190) .. ([yshift=-6pt]varref.north west);
\draw[member] ([xshift=97pt]iscalardata.south west) .. controls (1170,3020) and (1200,3168) .. (1300,3172)
  -- (1400,3175) .. controls (1460,3185) and (1500,3240) .. ([xshift=67pt]varscalar.north west);
\draw[member] ([yshift=18pt]string.south west) .. controls (1790,3125) and (1700,3140) .. (1500,3155)
  -- (1100,3180) .. controls (990,3200) and (920,3290) .. ([yshift=-20pt]abstractmodule.north east);
\draw[member] ([xshift=30pt]string.south west) -- ([xshift=169pt]varref.north west);
\draw[member] ([xshift=69pt]updnotify.south west) .. controls (2110,3000) and (2000,3200) .. ([yshift=-180pt]varref.north east);
\draw[member] ([yshift=-244pt]varref.north east) .. controls (1905,3450) and (1905,3525) .. ([yshift=-351pt]varref.north east);
\draw[inherit] ([xshift=-2pt]refInt32.north east) .. controls (1580,4085) and (1590,4060) .. (1592,3980)
  -- (1595,3860) .. controls (1600,3800) and (1630,3785) .. ([yshift=11pt]varref.south west);
\draw[inherit] ([xshift=175pt]refReal.north west) -- ([xshift=97pt]varref.south west);
\draw[member] ([xshift=61pt]varscalar.south west) -- ([xshift=102pt]refInt32.north west);
\draw[member] ([xshift=132pt]varscalar.south west) -- ([xshift=68pt]refReal.north west);
\draw[member] ([xshift=89pt]varfactreg.south west) .. controls (1130,3850) and (1120,4060) .. (1200,4110)
  .. controls (1260,4150) and (1310,4180) .. ([yshift=-100pt]refInt32.north west);
\draw[member] ([xshift=166pt]varfactreg.south west) .. controls (1270,3740) and (1286,3780) .. (1286,3850)
  -- (1286,4040) .. controls (1290,4090) and (1320,4096) .. (1400,4098) -- ([yshift=-1pt]refReal.north west);
\draw[member] ([yshift=-98pt]varfactreg.north east) .. controls (1340,3455) and (1340,3520) .. ([yshift=-201pt]varfactreg.north east);
\draw[inherit] ([xshift=41pt]basicmodule.north west) .. controls (1030,4850) and (860,4250) .. ([xshift=99pt]abstractmodule.south west);
\draw[inherit] ([xshift=69pt]basicmodule.north west) .. controls (1170,4850) and (1090,4350) .. ([xshift=98pt]meshaccessor.south west);
\draw[inherit] ([xshift=114pt]basicmodule.north west) -- ([yshift=-258pt]commonvars.north west);
\draw[inherit] ([xshift=82pt]verifierobj.north west) -- ([xshift=94pt]basicmodule.south west);
\draw[member] ([yshift=-223pt]verifier.north west) -- ([yshift=-56pt]verifierobj.north east);
\draw[member] ([xshift=93pt]refInt32.south west) -- ([xshift=93pt]commonvars.north west);
\draw[member] ([xshift=82pt]refReal.south west) .. controls (1625,4600) and (1590,4720) .. ([yshift=-32pt]commonvars.north east);
\draw[inherit] ([xshift=-3pt]caseoptsimple.north west) .. controls (2570,3160) and (2500,3080) .. ([xshift=182pt]caseoptbase.south west);
\draw[member] ([yshift=13pt]string.south east) .. controls (2080,3120) and (2130,3140) .. (2250,3150)
  -- (2520,3175) .. controls (2570,3180) and (2600,3190) .. ([yshift=-9pt]caseoptsimple.north west);
\draw[member] ([xshift=109pt]xmlnode.south west) -- ([xshift=70pt]caseoptsimple.north west);
\draw[member] ([xshift=74pt]icasefunc.south west) -- ([xshift=162pt]caseoptsimple.north west);
\draw[member] ([xshift=100pt]istdfunc.south west) .. controls (3050,2960) and (3030,3080) .. (2940,3125)
  .. controls (2900,3150) and (2870,3170) .. ([yshift=-2pt]caseoptsimple.north east);
\draw[member] ([xshift=100pt]iphysconv.south west) .. controls (3310,2970) and (3240,3130) .. (3080,3166)
  -- (2930,3175) .. controls (2880,3180) and (2860,3190) .. ([yshift=-10pt]caseoptsimple.north east);
\draw[inherit] ([xshift=78pt]caseoptmulti.north west) -- ([xshift=180pt]caseoptions.south west);
\draw[inherit] ([xshift=111pt]caseoptmulti.north west) -- ([xshift=81pt]icaseoptmulti.south west);
\draw[member] ([xshift=69pt]uniquearray.south west) .. controls (4000,3050) and (3880,3280) .. ([xshift=161pt]caseoptmulti.north west);
\draw[inherit] ([xshift=95pt]refcntCase.north west) -- ([xshift=106pt]chkptrB.south west);
\draw[member] ([xshift=89pt]traitsbool.south west) -- ([xshift=106pt]simplebool.north west);
\draw[member] ([xshift=78pt]traitsstring.south west) -- ([xshift=160pt]simplestring.north west);
\draw[inherit] ([xshift=168pt]simplebool.north west) -- ([xshift=40pt]caseoptsimple.south west);
\draw[inherit] ([xshift=104pt]simplestring.north west) -- ([xshift=123pt]caseoptsimple.south west);
\draw[member] ([xshift=105pt]simplebool.south west) -- ([xshift=118pt]verifier.north west);
\draw[member] ([xshift=113pt]simplestring.south west) .. controls (2740,4640) and (2690,4740) .. ([yshift=-72pt]verifier.north east);
\draw[member] ([xshift=113pt]refcntCase.south west) .. controls (2310,4500) and (2360,4650) .. ([xshift=5pt]verifier.north west);
\draw[member] ([xshift=31pt]opttrace.south west) .. controls (3050,4570) and (2900,4720) .. ([yshift=-126pt]verifier.north east);
\draw[tmpl] ([xshift=102pt]opttrace.north west) -- ([xshift=89pt]arrayview.south west);
\draw[inherit] ([xshift=171pt]opttrace.north west) -- ([xshift=36pt]caseoptmulti.south west);

% ---- connector labels
\node[lbl] (lInstance) at (903,130) {-m_instance};
\node[lbl] (lTrace) at (824,733) {-m_trace};
\node[lbl] (lUtf16) at (1914,732) {-m_utf16_array};
\node[lbl] (lUtf8) at (2072,732) {-m_utf8_array};
\node[lbl] (lP) at (1962,2362) {-m_p};
\node[lbl] (lVariable) at (1780,2745) {-m_variable};
\node[lbl] (lRef) at (985,2361) {-m_ref};
\node[lbl] (lSubDomain) at (296,3143) {-m_sub_domain};
\node[lbl] (lVersion) at (455,3143) {-m_version_info};
\node[lbl] (lSession) at (585,3143) {-m_session};
\node[lbl] (lAccel) at (705,3143) {-m_accelerator_mng};
\node[lbl] (lDefMesh) at (923,3143) {-m_default_mesh_handle};
\node[lbl] (lMeshHandle) at (1071,3143) {-m_mesh_handle};
\node[lbl] (lValueA) at (1276,3143) {-m_value};
\node[lbl] (lModule) at (1383,3143) {-m_module};
\node[lbl] (lName) at (1797,3143) {-m_name};
\node[lbl] (lStack) at (1927,3144) {-m_assignment_stack\\_trace};
\node[lbl] (lNotify) at (2120,3143) {-m_notify_functor_list};
\node[lbl] (lUnit) at (2464,3143) {-m_default_physical\\_unit\\-m_physical_unit};
\node[lbl] (lElement) at (2722,3143) {-m_element};
\node[lbl] (lFunction) at (2824,3143) {-m_function};
\node[lbl] (lStdFunc) at (3027,3143) {-m_standard_function};
\node[lbl] (lConverter) at (3264,3143) {-m_unit_converter};
\node[lbl] (lValues) at (3993,3143) {-m_values};
\node[lbl] (lNextFact) at (1380,3489) {-m_next\\-m_previous};
\node[lbl] (lNextRef) at (1976,3489) {-m_next_reference\\-m_previous_reference};
\node[lbl] (lAutoA) at (1218,3945) {-m_auto_registerer};
\node[lbl] (lAutoB) at (1378,3945) {-m_auto_registerer};
\node[lbl] (lPrivA) at (1530,3945) {-m_private_part};
\node[lbl] (lPrivB) at (1675,3945) {-m_private_part};
\node[lbl] (lValueB) at (2536,3945) {-m_value};
\node[lbl] (lValueC) at (2907,3945) {-m_value};
\node[lbl] (lIteration) at (1508,4597) {+m_global_iteration};
\node[lbl] (lGlobals) at (1704,4596) {+m_global_cpu_time\\+m_global_deltat\\+m_global_elapsed\\_time\\+m_global_final\\_time\\+m_global_old\\_cpu_time\\+m_global_old\\_deltat\\+m_global_old\\_elapsed_time\\+m_global_old\\_time\\+m_global_time};
\node[lbl] (lCaseOpt) at (2441,4597) {-m_case_options};
\node[lbl] (lBools) at (2600,4597) {+compareParallelSequential\\+filesInOutputDir\\+generate\\+verify};
\node[lbl] (lStrings) at (2822,4597) {+referenceFile\\+resultFile\\+verifierServiceName};
\node[lbl] (lTraceOpt) at (3127,4597) {+trace};
\node[lbl] (lOptions) at (1940,5177) {-m_options};
\end{tikzpicture}
\end{document}
